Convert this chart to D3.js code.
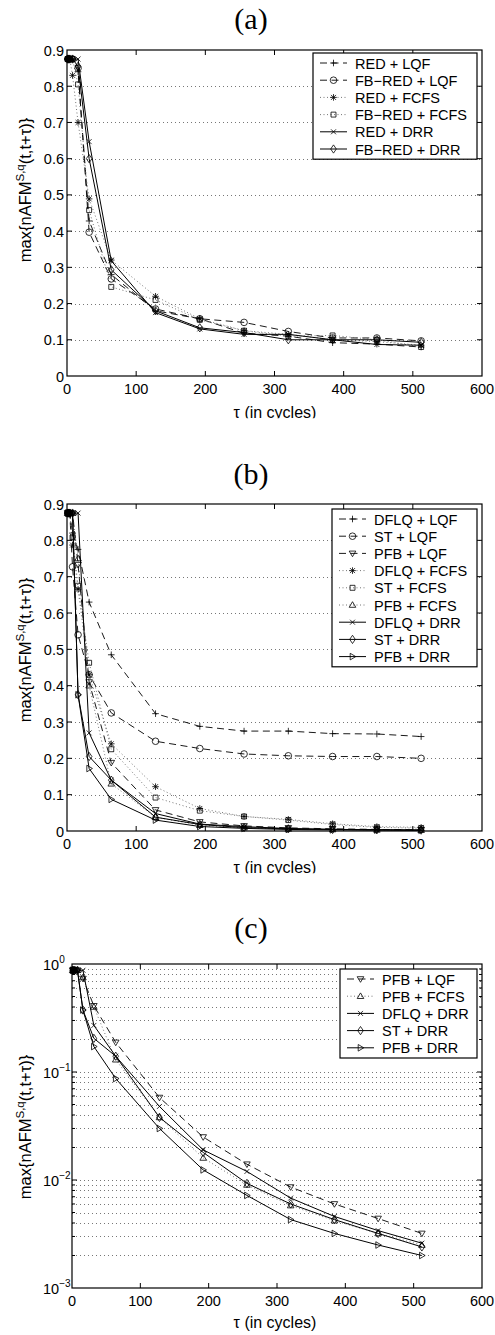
<!DOCTYPE html>
<html>
<head>
<meta charset="utf-8">
<script src="https://cdn.jsdelivr.net/npm/d3@7"></script>
<style>
  body { margin: 0; background: #fff; }
  svg text { font-family: "Liberation Sans", Arial, sans-serif; fill: #000; }
  svg text.title { font-family: "Liberation Serif", "Times New Roman", serif; }
</style>
</head>
<body>
<svg id="chart" width="495" height="1335"></svg>
<script>
const tau = [1, 2, 4, 8, 16, 32, 64, 128, 192, 256, 320, 384, 448, 512];

// panel (a)
const redLqf    = [0.875, 0.875, 0.875, 0.875, 0.84, 0.428, 0.28, 0.18, 0.158, 0.118, 0.11, 0.092, 0.088, 0.08];
const fbRedLqf  = [0.875, 0.875, 0.875, 0.875, 0.85, 0.397, 0.268, 0.185, 0.158, 0.148, 0.123, 0.105, 0.105, 0.097];
const redFcfs   = [0.875, 0.875, 0.875, 0.83, 0.70, 0.489, 0.32, 0.22, 0.158, 0.125, 0.115, 0.10, 0.095, 0.085];
const fbRedFcfs = [0.875, 0.875, 0.875, 0.875, 0.805, 0.458, 0.246, 0.21, 0.155, 0.125, 0.11, 0.112, 0.10, 0.08];
const redDrr    = [0.875, 0.875, 0.875, 0.875, 0.875, 0.647, 0.318, 0.175, 0.13, 0.115, 0.115, 0.10, 0.087, 0.085];
const fbRedDrr  = [0.875, 0.875, 0.875, 0.875, 0.855, 0.60, 0.293, 0.18, 0.133, 0.12, 0.10, 0.10, 0.10, 0.093];

// panels (b) and (c)
const dflqLqf  = [0.875, 0.875, 0.875, 0.82, 0.775, 0.63, 0.485, 0.323, 0.288, 0.275, 0.275, 0.268, 0.267, 0.26];
const stLqf    = [0.875, 0.875, 0.875, 0.727, 0.54, 0.43, 0.325, 0.247, 0.227, 0.212, 0.207, 0.205, 0.205, 0.20];
const pfbLqf   = [0.875, 0.875, 0.875, 0.875, 0.733, 0.41, 0.188, 0.058, 0.025, 0.014, 0.0086, 0.006, 0.0044, 0.0032];
const dflqFcfs = [0.875, 0.875, 0.875, 0.787, 0.665, 0.43, 0.24, 0.122, 0.062, 0.04, 0.032, 0.02, 0.012, 0.01];
const stFcfs   = [0.875, 0.875, 0.875, 0.808, 0.675, 0.463, 0.225, 0.092, 0.056, 0.04, 0.03, 0.018, 0.01, 0.008];
const pfbFcfs  = [0.875, 0.875, 0.875, 0.875, 0.75, 0.40, 0.13, 0.038, 0.016, 0.009, 0.0058, 0.0042, 0.0032, 0.0025];
const dflqDrr  = [0.875, 0.875, 0.875, 0.875, 0.875, 0.27, 0.14, 0.048, 0.019, 0.012, 0.0068, 0.0046, 0.0034, 0.0026];
const stDrr    = [0.875, 0.875, 0.875, 0.875, 0.375, 0.205, 0.14, 0.038, 0.018, 0.0093, 0.006, 0.0043, 0.0032, 0.0024];
const pfbDrr   = [0.875, 0.875, 0.875, 0.875, 0.375, 0.172, 0.087, 0.030, 0.0124, 0.0072, 0.0043, 0.0032, 0.0025, 0.002];

const xTicks = [0, 100, 200, 300, 400, 500, 600];
const linTicks = [0, 0.1, 0.2, 0.3, 0.4, 0.5, 0.6, 0.7, 0.8, 0.9];
const logExponents = [-3, -2, -1, 0];

const seriesA = [
  {name: 'RED + LQF', values: redLqf, line: 'dash', marker: '+'},
  {name: 'FB\u2212RED + LQF', values: fbRedLqf, line: 'dash', marker: 'o'},
  {name: 'RED + FCFS', values: redFcfs, line: 'dot', marker: '*'},
  {name: 'FB\u2212RED + FCFS', values: fbRedFcfs, line: 'dot', marker: 's'},
  {name: 'RED + DRR', values: redDrr, line: 'solid', marker: 'x'},
  {name: 'FB\u2212RED + DRR', values: fbRedDrr, line: 'solid', marker: 'd'},
];

const seriesB = [
  {name: 'DFLQ + LQF', values: dflqLqf, line: 'dash', marker: '+'},
  {name: 'ST + LQF', values: stLqf, line: 'dash', marker: 'o'},
  {name: 'PFB + LQF', values: pfbLqf, line: 'dash', marker: 'v'},
  {name: 'DFLQ + FCFS', values: dflqFcfs, line: 'dot', marker: '*'},
  {name: 'ST + FCFS', values: stFcfs, line: 'dot', marker: 's'},
  {name: 'PFB + FCFS', values: pfbFcfs, line: 'dot', marker: '^'},
  {name: 'DFLQ + DRR', values: dflqDrr, line: 'solid', marker: 'x'},
  {name: 'ST + DRR', values: stDrr, line: 'solid', marker: 'd'},
  {name: 'PFB + DRR', values: pfbDrr, line: 'solid', marker: '>'},
];

const seriesC = seriesB.filter(d => ['PFB + LQF', 'PFB + FCFS', 'DFLQ + DRR', 'ST + DRR', 'PFB + DRR'].includes(d.name));

const svg = d3.select('#chart');

drawPanel({title: '(a)', titleY: 29, top: 50, bottom: 376, left: 67, right: 482,
  log: false, series: seriesA, legendX: 313, legendY: 53, legendW: 164, yLabelY: 190, clipLabel: true});
drawPanel({title: '(b)', titleY: 484, top: 504, bottom: 831, left: 67, right: 482,
  log: false, series: seriesB, legendX: 332, legendY: 509, legendW: 145, yLabelY: 650, clipLabel: true});
drawPanel({title: '(c)', titleY: 938, top: 964, bottom: 1288, left: 72, right: 482,
  log: true, series: seriesC, legendX: 340, legendY: 969, legendW: 137, yLabelY: 1127, clipLabel: false});


function markerPath(type, r) {
  const k = r * 0.75;
  switch (type) {
    case '+': return `M${-r},0H${r}M0,${-r}V${r}`;
    case 'x': return `M${-k},${-k}L${k},${k}M${-k},${k}L${k},${-k}`;
    case '*': return `M${-r},0H${r}M0,${-r}V${r}M${-k},${-k}L${k},${k}M${-k},${k}L${k},${-k}`;
    case 'o': return `M${r},0A${r},${r} 0 1,1 ${-r},0A${r},${r} 0 1,1 ${r},0Z`;
    case 's': return `M${-k},${-k}H${k}V${k}H${-k}Z`;
    case 'd': return `M0,${-r * 1.25}L${r * 0.85},0L0,${r * 1.25}L${-r * 0.85},0Z`;
    case 'v': return `M${-r},${-r * 0.7}L${r},${-r * 0.7}L0,${r}Z`;
    case '^': return `M${-r},${r * 0.7}L${r},${r * 0.7}L0,${-r}Z`;
    case '>': return `M${-r * 0.7},${-r}L${r},0L${-r * 0.7},${r}Z`;
  }
}

function lineStyle(sel, line) {
  if (line === 'dash') {
    sel.attr('stroke', '#000').attr('stroke-width', 0.9).attr('stroke-dasharray', '7,4.5');
  } else if (line === 'dot') {
    sel.attr('stroke', '#666').attr('stroke-width', 0.9).attr('stroke-dasharray', '1,2.5');
  } else {
    sel.attr('stroke', '#000').attr('stroke-width', 1);
  }
}


function drawPanel(cfg) {
  const g = svg.append('g');
  const x = d3.scaleLinear().domain([0, 600]).range([cfg.left, cfg.right]);
  const y = cfg.log
    ? d3.scaleLog().domain([1e-3, 1]).range([cfg.bottom, cfg.top])
    : d3.scaleLinear().domain([0, 0.9]).range([cfg.bottom, cfg.top]);

  // title
  g.append('text')
      .attr('class', 'title')
      .attr('x', 251)
      .attr('y', cfg.titleY)
      .attr('text-anchor', 'middle')
      .attr('font-size', 30)
      .text(cfg.title);

  // horizontal grid
  let gridValues;
  if (cfg.log) {
    gridValues = [];
    logExponents.slice(0, -1).forEach(e => {
      d3.range(1, 10).forEach(k => gridValues.push(k * Math.pow(10, e)));
    });
    gridValues = gridValues.filter(v => v > 1e-3);
  } else {
    gridValues = linTicks.slice(1, -1);
  }

  g.append('g')
    .selectAll('line')
    .data(gridValues)
    .join('line')
      .attr('x1', cfg.left)
      .attr('x2', cfg.right)
      .attr('y1', d => Math.round(y(d)) + 0.5)
      .attr('y2', d => Math.round(y(d)) + 0.5)
      .attr('stroke', '#777')
      .attr('stroke-width', 1)
      .attr('stroke-dasharray', '1,3');

  // series lines
  const lineGen = d3.line()
      .x(d => x(d[0]))
      .y(d => y(d[1]));

  g.append('g')
    .selectAll('path')
    .data(cfg.series)
    .join('path')
      .attr('fill', 'none')
      .attr('d', d => lineGen(d3.zip(tau, d.values)))
      .each(function(d) { lineStyle(d3.select(this), d.line); });

  // markers
  cfg.series.forEach(s => {
    g.append('g')
      .selectAll('path')
      .data(d3.zip(tau, s.values))
      .join('path')
        .attr('transform', d => `translate(${x(d[0])},${y(d[1])})`)
        .attr('d', markerPath(s.marker, 3.3))
        .attr('fill', 'none')
        .attr('stroke', '#000')
        .attr('stroke-width', 0.8);
  });

  // frame
  g.append('rect')
      .attr('x', cfg.left)
      .attr('y', cfg.top)
      .attr('width', cfg.right - cfg.left)
      .attr('height', cfg.bottom - cfg.top)
      .attr('fill', 'none')
      .attr('stroke', '#000')
      .attr('stroke-width', 1.2);

  // x ticks (inward, bottom and top)
  const ticks = g.append('g').attr('stroke', '#000').attr('stroke-width', 1);
  xTicks.slice(1, -1).forEach(t => {
    ticks.append('line').attr('x1', x(t)).attr('x2', x(t)).attr('y1', cfg.bottom).attr('y2', cfg.bottom - 5);
    ticks.append('line').attr('x1', x(t)).attr('x2', x(t)).attr('y1', cfg.top).attr('y2', cfg.top + 5);
  });

  g.append('g')
    .selectAll('text')
    .data(xTicks)
    .join('text')
      .attr('x', d => x(d))
      .attr('y', cfg.bottom + 17.5)
      .attr('text-anchor', 'middle')
      .attr('font-size', 14.5)
      .text(d => d);

  // y ticks
  if (cfg.log) {
    gridValues.forEach(v => {
      const major = [1e-2, 1e-1].some(m => Math.abs(v - m) < 1e-9);
      const len = major ? 5 : 3;
      ticks.append('line').attr('x1', cfg.left).attr('x2', cfg.left + len).attr('y1', y(v)).attr('y2', y(v));
      ticks.append('line').attr('x1', cfg.right).attr('x2', cfg.right - len).attr('y1', y(v)).attr('y2', y(v));
    });

    const labels = g.append('g')
      .selectAll('text')
      .data(logExponents)
      .join('text')
        .attr('x', cfg.left - 29)
        .attr('y', d => y(Math.pow(10, d)) + 5.5)
        .attr('font-size', 14.5);
    labels.append('tspan').text('10');
    labels.append('tspan')
        .attr('dy', -7)
        .attr('font-size', 10)
        .text(d => d < 0 ? '\u2212' + (-d) : d);
  } else {
    linTicks.slice(1, -1).forEach(t => {
      ticks.append('line').attr('x1', cfg.left).attr('x2', cfg.left + 5).attr('y1', y(t)).attr('y2', y(t));
      ticks.append('line').attr('x1', cfg.right).attr('x2', cfg.right - 5).attr('y1', y(t)).attr('y2', y(t));
    });

    g.append('g')
      .selectAll('text')
      .data(linTicks)
      .join('text')
        .attr('x', cfg.left - 3)
        .attr('y', d => y(d) + 5.5)
        .attr('text-anchor', 'end')
        .attr('font-size', 14.5)
        .text(d => d === 0 ? '0' : d3.format('.1f')(d));
  }

  // x label (cut off at the bottom in (a) and (b), as in the original)
  const labelY = cfg.clipLabel ? cfg.bottom + 42 : cfg.bottom + 40;
  const xLabel = g.append('text')
      .attr('x', 275)
      .attr('y', labelY)
      .attr('text-anchor', 'middle')
      .attr('font-size', 16)
      .text('\u03c4 (in cycles)');

  if (cfg.clipLabel) {
    const id = 'clip' + cfg.top;
    svg.append('clipPath')
        .attr('id', id)
      .append('rect')
        .attr('x', 0)
        .attr('y', cfg.bottom + 20)
        .attr('width', 495)
        .attr('height', 22.3);
    xLabel.attr('clip-path', `url(#${id})`);
  }

  // y label
  const yLabel = g.append('text')
      .attr('transform', `translate(31,${cfg.yLabelY}) rotate(-90)`)
      .attr('text-anchor', 'middle')
      .attr('font-size', 16.5);
  yLabel.append('tspan').text('max{nAFM');
  yLabel.append('tspan').attr('dy', -7).attr('font-size', 11.5).text('S,q');
  yLabel.append('tspan').attr('dy', 7).text('(t,t+\u03c4)}');

  // legend
  const rowH = 17.2;
  const legend = g.append('g');
  legend.append('rect')
      .attr('x', cfg.legendX)
      .attr('y', cfg.legendY)
      .attr('width', cfg.legendW)
      .attr('height', cfg.series.length * rowH + 3)
      .attr('fill', '#fff')
      .attr('stroke', '#000')
      .attr('stroke-width', 1.2);

  const rows = legend.selectAll('g.row')
    .data(cfg.series)
    .join('g')
      .attr('class', 'row')
      .attr('transform', (d, i) => `translate(${cfg.legendX},${cfg.legendY + 10 + i * rowH})`);

  rows.append('line')
      .attr('x1', 7)
      .attr('x2', 34)
      .each(function(d) { lineStyle(d3.select(this), d.line); });

  rows.append('path')
      .attr('transform', 'translate(20.5,0)')
      .attr('d', d => markerPath(d.marker, 3.3))
      .attr('fill', 'none')
      .attr('stroke', '#000')
      .attr('stroke-width', 0.8);

  rows.append('text')
      .attr('x', 42)
      .attr('y', 5.5)
      .attr('font-size', 14.5)
      .text(d => d.name);
}
</script>
</body>
</html>
